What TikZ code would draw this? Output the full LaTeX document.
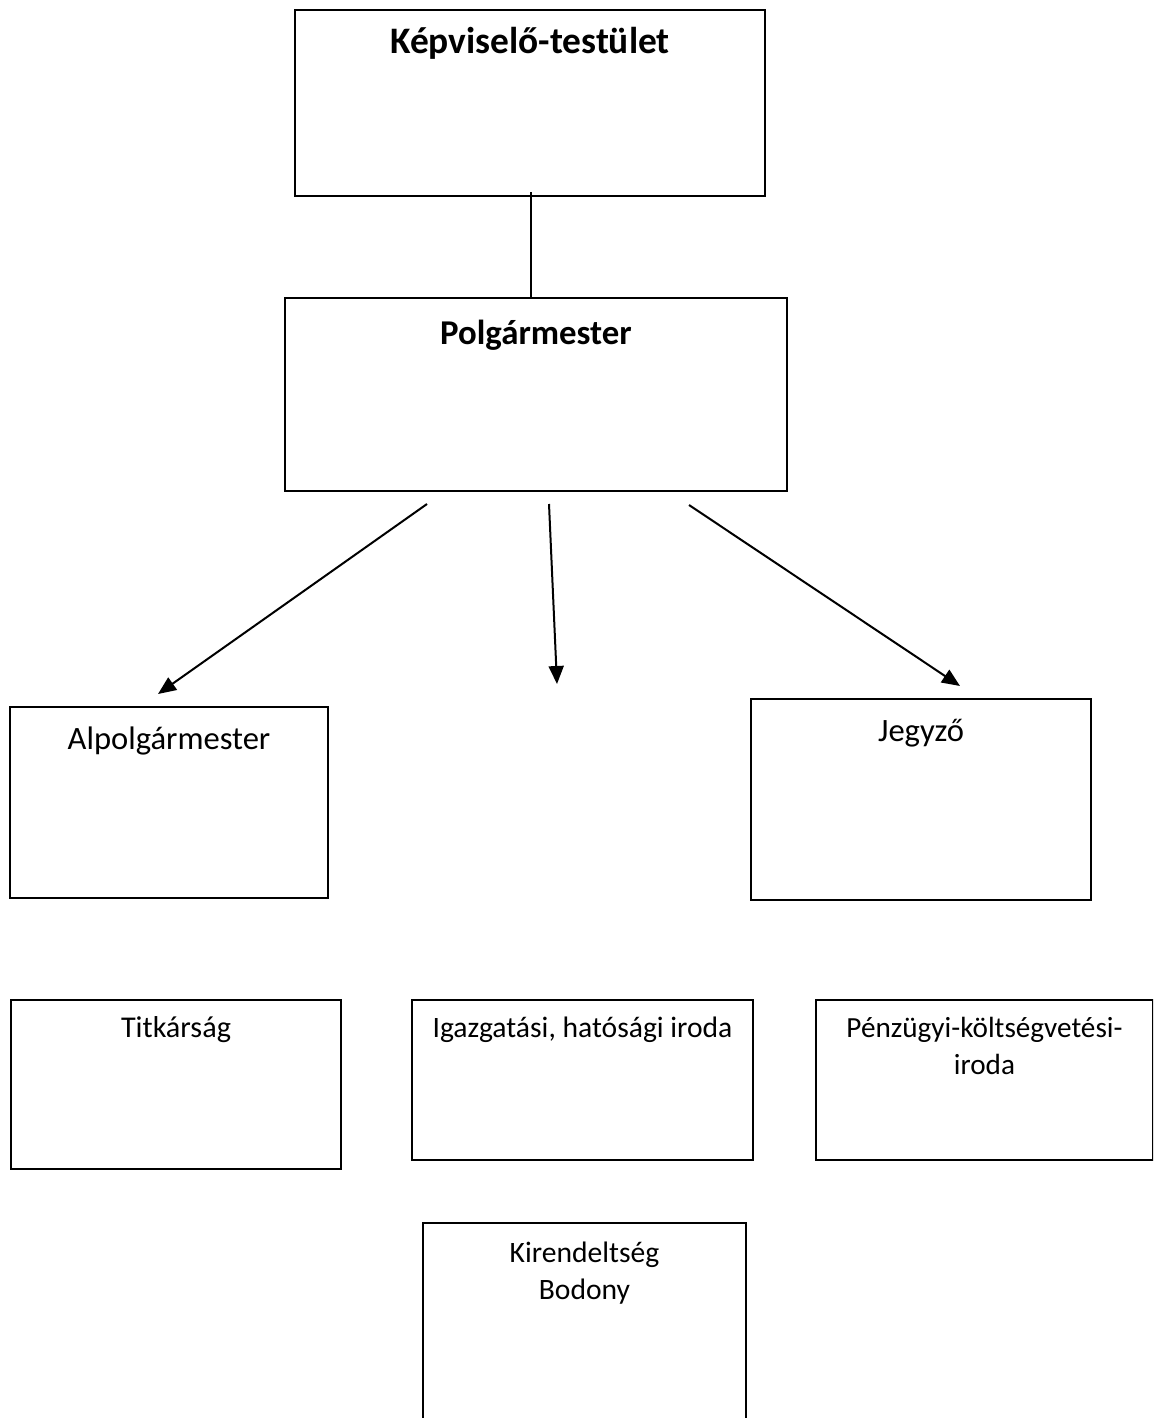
\documentclass[tikz,border=0pt]{standalone}
\usepackage{fontspec}
\setmainfont{Carlito}
\usetikzlibrary{arrows.meta}
\newcommand\boxcontent[4]{\begin{minipage}[t][#2][t]{#1}\centering\baselineskip=18.5pt\rule{0pt}{#3}#4\end{minipage}}
\tikzset{
  orgbox/.style={draw, line width=1pt, inner sep=0pt, anchor=north west},
  conn/.style={line width=1pt},
  arr/.style={line width=1pt, -{Triangle[length=9pt,width=7.5pt]}},
  fs/.style={font=\fontsize{#1}{18.5}\selectfont},
  bfs/.style={font=\fontsize{#1}{20}\selectfont\bfseries}
}
\begin{document}
\begin{tikzpicture}[x=0.5pt,y=-0.5pt]
\clip (0,0) rectangle (1153,1418);
\fill[white] (0,0) rectangle (1153,1418);
% boxes
\node[orgbox,bfs=18.7] (kt) at (294,9) {\boxcontent{235pt}{93pt}{22pt}{Képviselő-testület}};
\node[orgbox,bfs=17.4] (pm) at (284,297) {\boxcontent{251pt}{96.5pt}{23pt}{Polgármester}};
\node[orgbox,fs=16.3] (ap) at (9,706) {\boxcontent{159pt}{95.5pt}{21pt}{Alpolgármester}};
\node[orgbox,fs=16.3] (jz) at (750,698) {\boxcontent{170pt}{100.5pt}{21pt}{Jegyző}};
\node[orgbox,fs=15.1] (tk) at (10,999) {\boxcontent{165pt}{84.5pt}{18.7pt}{Titkárság}};
\node[orgbox,fs=14.8] (ig) at (411,999) {\boxcontent{170.5pt}{80pt}{18.7pt}{Igazgatási, hatósági iroda}};
\node[orgbox,fs=14.6] (pk) at (815,999) {\boxcontent{168.5pt}{80pt}{18.7pt}{Pénzügyi-költségvetési-\\iroda}};
\node[orgbox,fs=14.8] (kb) at (422,1222) {\boxcontent{161.5pt}{110pt}{19.5pt}{Kirendeltség\\Bodony}};
% connector points
\coordinate (ktb) at (531,192);
\coordinate (pmt) at (531,297);
\coordinate (s1) at (427,504);
\coordinate (e1) at (158,694);
\coordinate (s2) at (549,504);
\coordinate (e2) at (557,684);
\coordinate (s3) at (689,505);
\coordinate (e3) at (960,686);
\draw[conn] (ktb) -- (pmt);
\draw[arr] (s1) -- (e1);
\draw[arr] (s2) -- (e2);
\draw[arr] (s3) -- (e3);
\end{tikzpicture}
\end{document}
